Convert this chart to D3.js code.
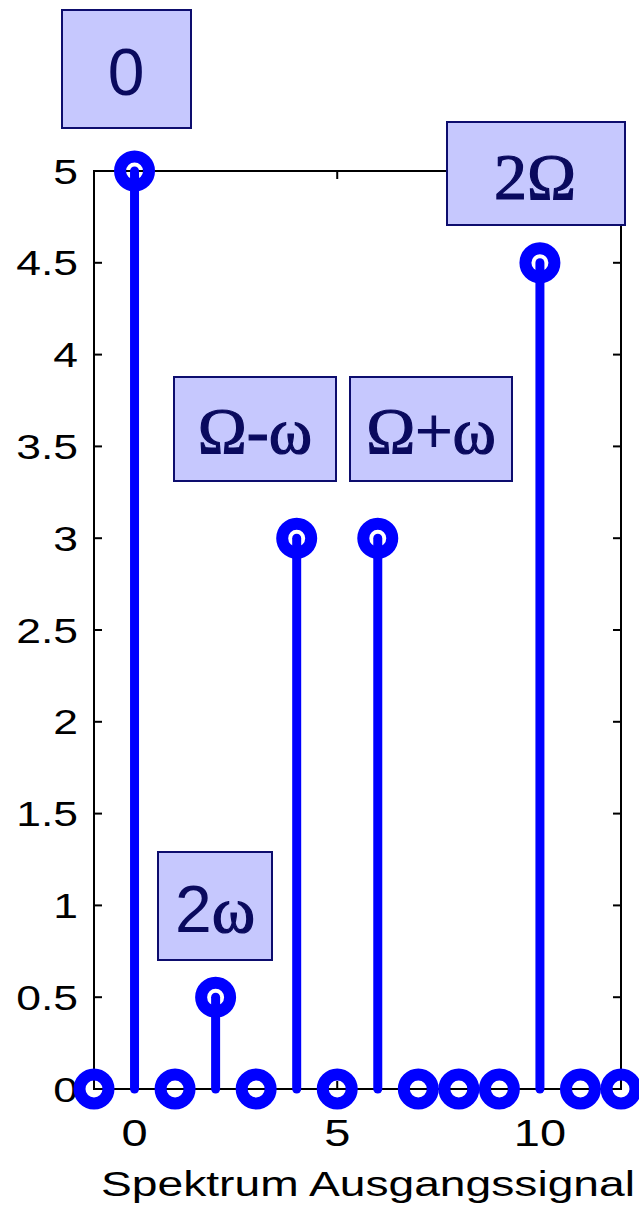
<!DOCTYPE html>
<html>
<head>
<meta charset="utf-8">
<script src="https://cdn.jsdelivr.net/npm/d3@7"></script>
<style>
  html, body { margin: 0; padding: 0; background: #fff; }
  svg { display: block; }
</style>
</head>
<body>
<script>
// Spectrum of the output signal: discrete line amplitudes
const frequencyIndex = [-1, 0, 1, 2, 3, 4, 5, 6, 7, 8, 9, 10, 11, 12];
const amplitude      = [ 0, 5, 0, 0.5, 0, 3, 0, 3, 0, 0, 0, 4.5, 0, 0];
const yTicks = [0, 0.5, 1, 1.5, 2, 2.5, 3, 3.5, 4, 4.5, 5];
const xTicks = [0, 5, 10];
const xLabel = "Spektrum Ausgangssignal";

// Component labels: text parts (font family per part)
const componentLabels = [
  [{ t: "0", f: "sans" }],
  [{ t: "2", f: "serif" }, { t: "\u03A9", f: "serif" }],
  [{ t: "\u03A9-\u03C9", f: "serif" }],
  [{ t: "\u03A9+\u03C9", f: "serif" }],
  [{ t: "2", f: "sans" }, { t: "\u03C9", f: "serif" }]
];

const W = 639, H = 1210;
const svg = d3.select("body").append("svg").attr("width", W).attr("height", H);

const x = d3.scaleLinear().domain([-1, 12]).range([94, 621]);
const y = d3.scaleLinear().domain([0, 5]).range([1089, 171]);

const SANS = "'Liberation Sans', Arial, sans-serif";
const SERIF = "'Liberation Serif', 'Times New Roman', serif";
const stretch = 1.27;

// Axes frame
const frame = svg.append("g");
frame.append("rect")
  .attr("x", x(-1)).attr("y", y(5))
  .attr("width", x(12) - x(-1)).attr("height", y(0) - y(5))
  .attr("fill", "none").attr("stroke", "#000").attr("stroke-width", 2);

const tickLen = 8;
yTicks.forEach(v => {
  frame.append("line").attr("x1", x(-1)).attr("x2", x(-1) + tickLen)
    .attr("y1", y(v)).attr("y2", y(v)).attr("stroke", "#000").attr("stroke-width", 2);
  frame.append("line").attr("x1", x(12)).attr("x2", x(12) - tickLen)
    .attr("y1", y(v)).attr("y2", y(v)).attr("stroke", "#000").attr("stroke-width", 2);
  frame.append("text")
    .attr("transform", `translate(${x(-1) - 16},${y(v) + 12.5}) scale(${stretch},1)`)
    .attr("text-anchor", "end")
    .attr("font-family", SANS).attr("font-size", 35)
    .text(d3.format("~g")(v));
});
xTicks.forEach(v => {
  frame.append("line").attr("x1", x(v)).attr("x2", x(v))
    .attr("y1", y(0)).attr("y2", y(0) - tickLen).attr("stroke", "#000").attr("stroke-width", 2);
  frame.append("line").attr("x1", x(v)).attr("x2", x(v))
    .attr("y1", y(5)).attr("y2", y(5) + tickLen).attr("stroke", "#000").attr("stroke-width", 2);
  frame.append("text")
    .attr("transform", `translate(${x(v)},1146) scale(${stretch},1)`)
    .attr("text-anchor", "middle")
    .attr("font-family", SANS).attr("font-size", 37)
    .text(v);
});
svg.append("text")
  .attr("transform", `translate(368,1196) scale(1.32,1)`)
  .attr("text-anchor", "middle")
  .attr("font-family", SANS).attr("font-size", 35)
  .text(xLabel);

// Stems and markers
const data = frequencyIndex.map((f, i) => ({ f, a: amplitude[i] }));
const marks = svg.append("g");
marks.selectAll("line.stem").data(data.filter(d => d.a !== 0)).join("line")
  .attr("class", "stem")
  .attr("x1", d => x(d.f)).attr("x2", d => x(d.f))
  .attr("y1", y(0)).attr("y2", d => y(d.a))
  .attr("stroke", "#0000ff").attr("stroke-width", 9).attr("stroke-linecap", "round");
marks.selectAll("circle").data(data).join("circle")
  .attr("cx", d => x(d.f)).attr("cy", d => y(d.a)).attr("r", 14.5)
  .attr("fill", "none").attr("stroke", "#0000ff").attr("stroke-width", 12);

// Component annotation boxes (pixel layout)
const boxLayout = [
  { x0: 62,  y0: 10,  x1: 191, y1: 128, tx: 126, ty: 95 },
  { x0: 447, y0: 122, x1: 625, y1: 225, tx: 535, ty: 199 },
  { x0: 174, y0: 377, x1: 336, y1: 481, tx: 255, ty: 453 },
  { x0: 350, y0: 377, x1: 512, y1: 481, tx: 431, ty: 453 },
  { x0: 158, y0: 852, x1: 272, y1: 960, tx: 215, ty: 932 }
];
const ann = svg.append("g");
componentLabels.forEach((parts, i) => {
  const b = boxLayout[i];
  ann.append("rect")
    .attr("x", b.x0).attr("y", b.y0)
    .attr("width", b.x1 - b.x0).attr("height", b.y1 - b.y0)
    .attr("fill", "#c6c8fe").attr("stroke", "#0d0d6e").attr("stroke-width", 2);
  const t = ann.append("text")
    .attr("x", b.tx).attr("y", b.ty)
    .attr("text-anchor", "middle")
    .attr("font-size", 66).attr("fill", "#0a0a5e");
  parts.forEach(p => {
    const s = t.append("tspan").attr("font-family", p.f === "sans" ? SANS : SERIF).text(p.t);
    if (p.f === "serif") s.attr("stroke", "#0a0a5e").attr("stroke-width", 1.2);
  });
});
</script>
</body>
</html>
